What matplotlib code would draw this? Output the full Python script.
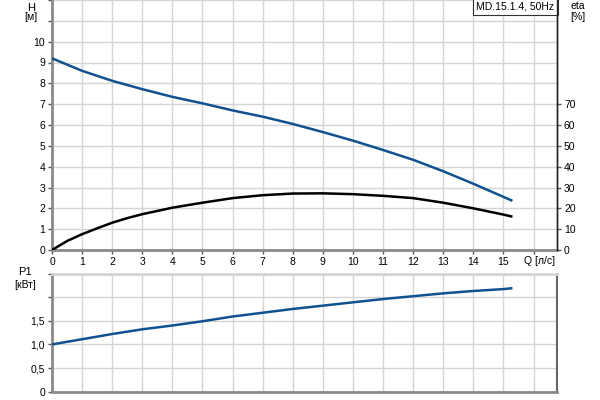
import matplotlib
matplotlib.use("Agg")
import matplotlib.pyplot as plt
from matplotlib.transforms import blended_transform_factory

plt.rcParams['font.family'] = ['Liberation Sans', 'DejaVu Sans']

q = [0, 1, 2, 3, 4, 5, 6, 7, 8, 9, 10, 11, 12, 13, 14, 15, 15.3]
head = [9.2, 8.6, 8.12, 7.72, 7.35, 7.04, 6.70, 6.40, 6.05, 5.66, 5.25, 4.80, 4.33, 3.78, 3.18, 2.55, 2.36]
p1 = [1.0, 1.11, 1.22, 1.32, 1.40, 1.49, 1.59, 1.67, 1.75, 1.82, 1.89, 1.96, 2.02, 2.08, 2.13, 2.17, 2.19]

q_eta = [0, 0.5, 1, 1.5, 2, 2.5, 3, 4, 5, 6, 7, 8, 9, 10, 11, 12, 13, 14, 15, 15.3]
eta = [0, 4.3, 7.6, 10.4, 13.1, 15.3, 17.2, 20.3, 22.7, 24.9, 26.3, 27.1, 27.2, 26.8, 26.0, 24.9, 22.7, 20.0, 17.0, 16.0]

eta_ticks = list(range(0, 71, 10))
p_ticks = [0, 0.5, 1.0, 1.5, 2.0, 2.5]
p_labels = ["0", "0,5", "1,0", "1,5", "", ""]
title = "MD.15.1.4, 50Hz"

blue = '#105190'
grid_c = '#d4d4d4'
spine_c = '#8a8a8a'
fs = 7.5

fig = plt.figure(figsize=(6, 4), dpi=100)
ax = fig.add_axes([52/600, 1-250/400, 505/600, 250/400])
ax2 = ax.twinx()
bx = fig.add_axes([52/600, 1-391.7/400, 505/600, (391.7-273.5)/400])

xmax = 16.78
for a in (ax, bx):
    a.set_xlim(0, xmax)
    a.set_xticks(range(0, 17))
    a.grid(True, color=grid_c, lw=1)
    a.set_axisbelow(True)
    for s in ('left', 'bottom'):
        a.spines[s].set_color(spine_c)
        a.spines[s].set_linewidth(2)
    a.tick_params(axis='both', length=3, width=1, color='#555555', labelsize=fs, pad=2)

ax.set_ylim(0, 12)
ax.set_yticks(range(0, 13))
ax.set_yticklabels([str(v) if v <= 10 else "" for v in range(0, 13)])
ax.set_xticklabels([str(v) if v <= 15 else "" for v in range(0, 17)])
ax.spines['top'].set_visible(False)
ax.spines['right'].set_color('#222222')
ax.spines['right'].set_linewidth(1)
ax.plot(q, head, color=blue, lw=1.8, solid_capstyle='butt', zorder=3)

ax2.set_ylim(0, 120)
ax2.set_yticks(eta_ticks)
ax2.tick_params(axis='y', length=3, width=1, color='#555555', labelsize=fs, pad=2)
for s in ('left', 'top', 'bottom'):
    ax2.spines[s].set_visible(False)
ax2.spines['right'].set_color('#222222')
ax2.spines['right'].set_linewidth(1)
ax2.plot(q_eta, eta, color='black', lw=1.8, solid_capstyle='butt', zorder=3)

trans = blended_transform_factory(ax.transData, ax.transAxes)
ax.text(16.2, -0.042, "Q [л/с]", transform=trans, ha='center', va='center', fontsize=fs)

bx.set_ylim(0, 2.5)
bx.set_yticks(p_ticks)
bx.set_yticklabels(p_labels)
bx.set_xticklabels([])
bx.tick_params(axis='x', length=0)
bx.spines['top'].set_color(grid_c)
bx.spines['top'].set_linewidth(2)
bx.spines['right'].set_color('#666666')
bx.spines['right'].set_linewidth(1.5)
bx.plot(q, p1, color=blue, lw=1.8, solid_capstyle='butt', zorder=3)

fig.text(31/600, 1-8/400, "H", ha='center', va='center', fontsize=fs + 0.5)
fig.text(31/600, 1-17/400, "[м]", ha='center', va='center', fontsize=fs)
fig.text(578/600, 1-6/400, "eta", ha='center', va='center', fontsize=fs)
fig.text(578/600, 1-17/400, "[%]", ha='center', va='center', fontsize=fs)
fig.text(25/600, 1-272/400, "P1", ha='center', va='center', fontsize=fs + 0.5)
fig.text(25/600, 1-285/400, "[кВт]", ha='center', va='center', fontsize=fs)

ax.text(0.995, 0.995, title, transform=ax.transAxes, ha='right', va='top', fontsize=fs, zorder=5,
        bbox=dict(boxstyle='square,pad=0.35', fc='white', ec='#333333', lw=0.8))

fig.savefig("out.png", dpi=100)
